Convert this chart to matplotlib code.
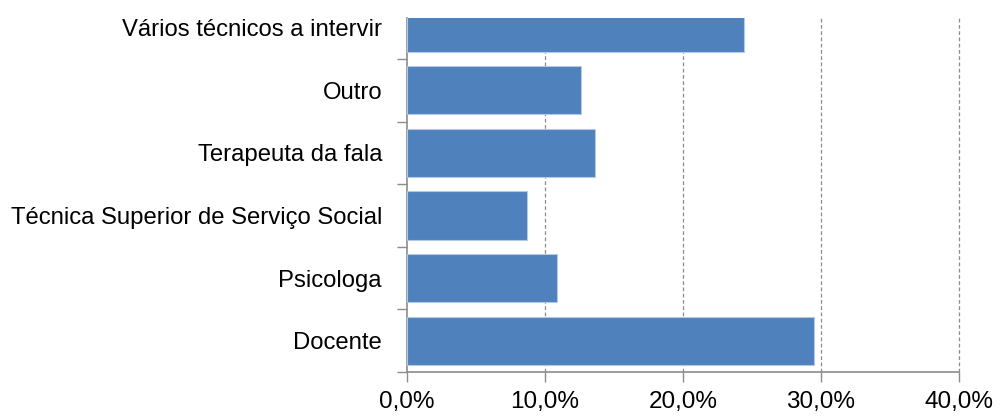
import matplotlib.pyplot as plt
import numpy as np
from matplotlib.ticker import FuncFormatter, FixedLocator

# dados (de baixo para cima)
categorias = ['Docente', 'Psicologa', 'Técnica Superior de Serviço Social',
              'Terapeuta da fala', 'Outro', 'Vários técnicos a intervir']
percentagens = [0.295, 0.109, 0.087, 0.136, 0.126, 0.244]
x_ticks = [0.0, 0.1, 0.2, 0.3, 0.4]

plt.rcParams['font.family'] = ['Liberation Sans', 'DejaVu Sans']

fig = plt.figure(figsize=(10.01, 4.16), dpi=100)
ax = fig.add_axes([407 / 1001, 44 / 416, (959 - 407) / 1001, (372 - 18) / 416])

cor = '#4f81bd'
ind = np.arange(len(categorias))
ax.barh(ind, percentagens, height=0.77, color=cor, edgecolor='#b3c9e6', linewidth=0.8, zorder=3)

ax.xaxis.set_major_locator(FixedLocator(x_ticks))
ax.xaxis.set_major_formatter(FuncFormatter(lambda v, p: ('%.1f%%' % (v * 100)).replace('.', ',')))
for v in x_ticks[1:]:
    ax.axvline(v, color='#8c8c8c', linestyle=(0, (3, 2)), linewidth=0.9, zorder=1, clip_on=False)

# ticks do eixo y nas fronteiras das categorias, rótulos ao centro
ax.set_yticks(ind - 0.5)
ax.set_yticklabels([])
ax.set_yticks(ind, minor=True)
ax.set_yticklabels(categorias, minor=True)
ax.tick_params(axis='y', which='major', direction='out', length=7, width=1, color='#8c8c8c')
ax.tick_params(axis='y', which='minor', length=0, pad=18, labelsize=17.2)
ax.tick_params(axis='x', direction='out', length=7, width=1, color='#8c8c8c', labelsize=17.5, pad=7)

# limites depois dos ticks (set_yticks alarga a vista)
ax.set_xlim(0, 0.4)
ax.set_ylim(-0.5, 5.155)

for s in ['top', 'right']:
    ax.spines[s].set_visible(False)
for s in ['left', 'bottom']:
    ax.spines[s].set_color('#8c8c8c')
    ax.spines[s].set_linewidth(1.2)

fig.savefig('out.png', dpi=100)
